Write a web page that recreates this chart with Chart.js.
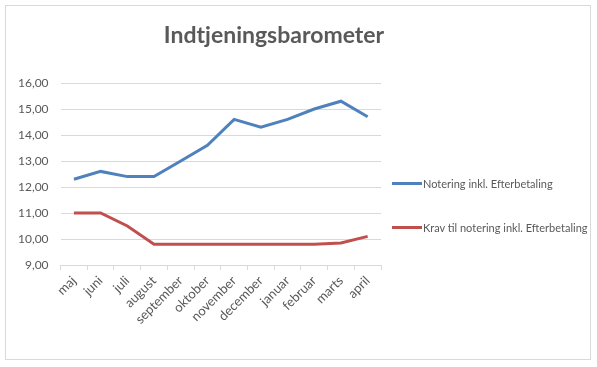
<!DOCTYPE html>
<html lang="da">
  <head>
    <meta charset="UTF-8" />
    <title>Indtjeningsbarometer</title>
    <script src="https://cdn.jsdelivr.net/npm/chart.js"></script>
    <style>
      body {
        margin: 0;
        background: #ffffff;
        font-family: "Lato", sans-serif;
      }
      .ramme {
        position: absolute;
        left: 5px;
        top: 5px;
        width: 584px;
        height: 353px;
        border: 1px solid #d9d9d9;
      }
      .titel {
        position: absolute;
        left: 0;
        top: 14px;
        width: 536px;
        text-align: center;
        font-weight: bold;
        font-size: 23px;
        color: #595959;
      }
      /* egen forklaring til hoejre for plottet */
      .forklaring {
        position: absolute;
        left: 386px;
        top: 170px;
        font-size: 11px;
        color: #595959;
      }
      .forklaring div {
        display: flex;
        align-items: center;
        height: 14px;
        margin-bottom: 30px;
        white-space: nowrap;
      }
      .forklaring span.streg {
        display: inline-block;
        width: 30px;
        height: 3px;
        margin-right: 1px;
      }
    </style>
  </head>
  <body>
    <div class="ramme">
      <div class="titel">Indtjeningsbarometer</div>
      <canvas id="graf" width="584" height="353"></canvas>
      <div class="forklaring" id="forklaring"></div>
    </div>

    <script>
      // maaneder og vaerdier aflaest fra grafen
      const maaneder = ["maj", "juni", "juli", "august", "september", "oktober",
        "november", "december", "januar", "februar", "marts", "april"];
      const notering = [12.3, 12.6, 12.4, 12.4, 13.0, 13.6, 14.6, 14.3, 14.6, 15.0, 15.3, 14.7];
      const krav = [11.0, 11.0, 10.5, 9.8, 9.8, 9.8, 9.8, 9.8, 9.8, 9.8, 9.85, 10.1];

      const graa = "#595959";
      const linjeFarve = "#d9d9d9";

      const graf = new Chart(document.getElementById("graf").getContext("2d"), {
        type: "line",
        data: {
          labels: maaneder,
          datasets: [
            {
              label: "Notering inkl. Efterbetaling",
              data: notering,
              borderColor: "#4f81bd",
              borderWidth: 3,
              pointRadius: 0,
              fill: false,
            },
            {
              label: "Krav til notering inkl. Efterbetaling",
              data: krav,
              borderColor: "#c0504d",
              borderWidth: 3,
              pointRadius: 0,
              fill: false,
            },
          ],
        },
        options: {
          responsive: false,
          animation: false,
          layout: {
            padding: { top: 77, right: 209, bottom: 29, left: 0 },
          },
          plugins: {
            legend: { display: false },
            tooltip: { enabled: false },
          },
          scales: {
            x: {
              offset: true,
              grid: {
                offset: true,
                drawOnChartArea: false,
                drawTicks: true,
                tickLength: 5,
                color: linjeFarve,
              },
              border: { color: linjeFarve },
              ticks: {
                color: graa,
                maxRotation: 45,
                minRotation: 45,
                font: { family: "Lato", size: 13 },
              },
            },
            y: {
              min: 9,
              max: 16,
              grid: { color: linjeFarve, drawTicks: false },
              border: { display: false },
              ticks: {
                stepSize: 1,
                padding: 12,
                color: graa,
                font: { family: "Lato", size: 12 },
                callback: (v) => v.toFixed(2).replace(".", ","),
              },
            },
          },
        },
      });

      // forklaringen bygges ud fra datasaettene
      const forklaring = document.getElementById("forklaring");
      graf.data.datasets.forEach((ds) => {
        const raekke = document.createElement("div");
        const streg = document.createElement("span");
        streg.className = "streg";
        streg.style.background = ds.borderColor;
        raekke.appendChild(streg);
        raekke.appendChild(document.createTextNode(ds.label));
        forklaring.appendChild(raekke);
      });
    </script>
  </body>
</html>
